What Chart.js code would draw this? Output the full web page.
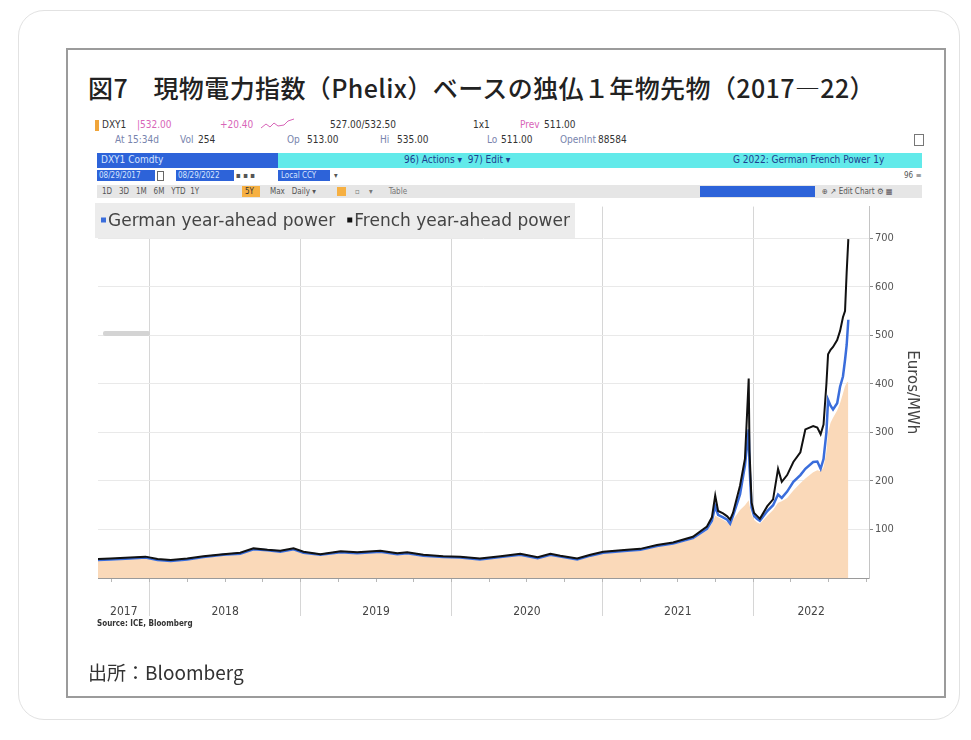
<!DOCTYPE html>
<html lang="ja">
<head>
<meta charset="utf-8">
<title>図7 独仏1年物先物</title>
<script src="https://cdn.jsdelivr.net/npm/chart.js@4.4.1/dist/chart.umd.min.js"></script>
<style>
  html, body { margin: 0; padding: 0; background: #fff; }
  body { width: 971px; height: 740px; position: relative; overflow: hidden; font-family: "DejaVu Sans Condensed", "DejaVu Sans", sans-serif; }
  .card { position: absolute; left: 18px; top: 10px; width: 940px; height: 708px; border: 1px solid #e2e2e2; border-radius: 26px; }
  .frame { position: absolute; left: 66px; top: 48px; width: 876px; height: 646px; border: 2px solid #9b9b9b; }
  .title { position: absolute; left: 88px; top: 71px; font-family: "Noto Sans CJK JP", sans-serif; font-size: 25px; letter-spacing: 0.4px; font-weight: 500; color: #222; white-space: nowrap; line-height: 32px; }
  .src-jp { position: absolute; left: 88px; top: 660px; font-family: "Noto Sans CJK JP", sans-serif; font-size: 19px; color: #333; line-height: 24px; }
  .t { position: absolute; font-size: 10px; line-height: 12px; white-space: nowrap; color: #333; }
  .pink { color: #d865b8; }
  .gb { color: #7884ad; }
  .bar { position: absolute; }
  .src-en { position: absolute; left: 97px; top: 619px; font-size: 8px; font-weight: bold; color: #333; }
  #chartBox { position: absolute; left: 80px; top: 198px; width: 860px; height: 430px; }
</style>
</head>
<body>
<div class="card"></div>
<div class="frame"></div>
<div class="title">図7　現物電力指数（Phelix）ベースの独仏１年物先物（2017—22）</div>

<!-- Bloomberg header rows -->
<div class="bar" style="left:95px;top:120px;width:4px;height:11px;background:#f0a53a;"></div>
<span class="t" style="left:102px;top:119px;">DXY1</span>
<span class="t pink" style="left:137px;top:119px;">|532.00</span>
<span class="t pink" style="left:220px;top:119px;">+20.40</span>
<svg class="bar" style="left:260px;top:118px;" width="36" height="12"><polyline points="1,10 6,6 10,9 14,5 18,8 24,7 28,3 34,1" fill="none" stroke="#d865b8" stroke-width="1"/></svg>
<span class="t" style="left:330px;top:119px;">527.00/532.50</span>
<span class="t" style="left:473px;top:119px;">1x1</span>
<span class="t pink" style="left:520px;top:119px;">Prev</span>
<span class="t" style="left:544px;top:119px;">511.00</span>

<span class="t gb" style="left:115px;top:134px;">At 15:34d</span>
<span class="t gb" style="left:180px;top:134px;">Vol</span>
<span class="t" style="left:198px;top:134px;">254</span>
<span class="t gb" style="left:287px;top:134px;">Op</span>
<span class="t" style="left:307px;top:134px;">513.00</span>
<span class="t gb" style="left:380px;top:134px;">Hi</span>
<span class="t" style="left:397px;top:134px;">535.00</span>
<span class="t gb" style="left:487px;top:134px;">Lo</span>
<span class="t" style="left:501px;top:134px;">511.00</span>
<span class="t gb" style="left:560px;top:134px;">OpenInt</span>
<span class="t" style="left:598px;top:134px;">88584</span>
<div class="bar" style="left:914px;top:134px;width:8px;height:10px;border:1px solid #777;"></div>

<div class="bar" style="left:97px;top:153px;width:181px;height:15px;background:#2d63d9;"></div>
<span class="t" style="left:101px;top:154px;color:#d6e4ff;">DXY1 Comdty</span>
<div class="bar" style="left:278px;top:153px;width:644px;height:15px;background:#62eaea;"></div>
<span class="t" style="left:404px;top:154px;color:#1d3f8f;">96) Actions ▾ &nbsp;97) Edit ▾</span>
<span class="t" style="left:733px;top:154px;color:#1d3f8f;">G 2022: German French Power 1y</span>

<div class="bar" style="left:97px;top:170px;width:58px;height:11px;background:#2d63d9;"></div>
<span class="t" style="left:99px;top:170px;color:#d6e4ff;font-size:8px;">08/29/2017</span>
<div class="bar" style="left:157px;top:171px;width:5px;height:8px;border:1px solid #666;"></div>
<div class="bar" style="left:176px;top:170px;width:58px;height:11px;background:#2d63d9;"></div>
<span class="t" style="left:178px;top:170px;color:#d6e4ff;font-size:8px;">08/29/2022</span>
<span class="t" style="left:236px;top:170px;font-size:8px;color:#555;">▪ ▪ ▪</span>
<div class="bar" style="left:278px;top:170px;width:52px;height:11px;background:#2d63d9;"></div>
<span class="t" style="left:281px;top:170px;color:#d6e4ff;font-size:8px;">Local CCY</span>
<span class="t" style="left:334px;top:170px;font-size:8px;color:#555;">▾</span>
<span class="t" style="left:904px;top:170px;font-size:8px;color:#555;">96 ≡</span>

<div class="bar" style="left:97px;top:185px;width:825px;height:13px;background:#e6e6e6;"></div>
<span class="t" style="left:102px;top:186px;font-size:8px;color:#555;">1D &nbsp;&nbsp;3D &nbsp;&nbsp;1M &nbsp;&nbsp;6M &nbsp;&nbsp;YTD &nbsp;1Y</span>
<div class="bar" style="left:242px;top:186px;width:18px;height:11px;background:#f6b042;"></div>
<span class="t" style="left:245px;top:186px;font-size:8px;color:#333;">5Y</span>
<span class="t" style="left:270px;top:186px;font-size:8px;color:#555;">Max &nbsp;&nbsp;Daily ▾</span>
<div class="bar" style="left:337px;top:187px;width:9px;height:9px;background:#f6b042;"></div>
<span class="t" style="left:355px;top:186px;font-size:8px;color:#777;">▫ &nbsp;&nbsp;&nbsp;▾ &nbsp;&nbsp;&nbsp;&nbsp;&nbsp;&nbsp;Table</span>
<div class="bar" style="left:700px;top:186px;width:115px;height:11px;background:#2d63d9;"></div>
<span class="t" style="left:822px;top:186px;font-size:8px;color:#555;">⊕ ↗ Edit Chart ⚙ ▦</span>

<div id="chartBox"><canvas id="chart" width="860" height="430"></canvas></div>
<div class="bar" style="left:103px;top:331px;width:47px;height:5px;background:#d4d4d4;border-radius:2px;"></div>
<div class="src-en">Source: ICE, Bloomberg</div>
<div class="src-jp">出所：Bloomberg</div>

<script>
// weekly-ish readings of the Bloomberg chart (EUR/MWh)
const DATES = [
  '2017-08-29', '2017-09-28', '2017-11-15', '2017-12-22', '2018-01-20', '2018-02-21', '2018-04-02', '2018-05-11',
  '2018-06-28', '2018-08-08', '2018-09-09', '2018-10-13', '2018-11-13', '2018-12-15', '2019-01-08', '2019-02-18',
  '2019-04-08', '2019-05-18', '2019-07-13', '2019-08-23', '2019-09-16', '2019-10-25', '2019-12-12', '2020-01-22',
  '2020-03-10', '2020-04-29', '2020-06-16', '2020-07-28', '2020-08-28', '2020-09-21', '2020-11-01', '2020-12-03',
  '2021-01-03', '2021-03-02', '2021-04-03', '2021-05-13', '2021-06-21', '2021-08-08', '2021-09-11', '2021-09-23',
  '2021-10-01', '2021-10-08', '2021-10-20', '2021-10-30', '2021-11-06', '2021-11-13', '2021-11-30', '2021-12-12',
  '2021-12-21', '2021-12-23', '2021-12-28', '2022-01-03', '2022-01-10', '2022-01-17', '2022-02-04', '2022-02-18',
  '2022-03-02', '2022-03-11', '2022-03-24', '2022-04-08', '2022-04-25', '2022-05-07', '2022-05-26', '2022-06-05',
  '2022-06-13', '2022-06-20', '2022-06-27', '2022-07-01', '2022-07-07', '2022-07-13', '2022-07-23', '2022-07-30',
  '2022-08-06', '2022-08-11', '2022-08-15', '2022-08-19',
];
const GERMAN = [
  37, 38, 40, 42, 37, 35, 38, 43,
  48, 50, 59, 57, 54, 59, 52, 48,
  53, 51, 54, 49, 51, 46, 43, 42,
  38, 43, 48, 41, 48, 44, 38, 46,
  52, 56, 58, 66, 71, 82, 101, 118,
  148, 130, 125, 120, 112, 128, 172, 232,
  306, 230, 145, 128, 122, 118, 138, 150,
  172, 165, 178, 198, 212, 225, 239, 240,
  225, 245, 300, 367, 355, 347, 360, 394,
  415, 449, 480, 532,
];
const FRENCH = [
  39, 40, 42, 44, 39, 37, 40, 45,
  49, 52, 61, 58, 56, 61, 54, 49,
  55, 53, 56, 51, 53, 48, 45, 44,
  40, 45, 50, 43, 50, 46, 40, 48,
  54, 58, 60, 68, 73, 85, 106, 125,
  170, 138, 133, 127, 120, 134, 190, 246,
  411, 262, 155, 134, 128, 122, 148, 162,
  225, 198, 212, 239, 259, 306, 313, 310,
  296, 316, 400, 461, 470, 476, 490, 509,
  537, 550, 630, 698,
];
// peach mountain under the lines
const AREA = [
  35, 36, 38, 40, 35, 33, 36, 41,
  46, 48, 57, 55, 52, 57, 50, 46,
  51, 49, 52, 47, 49, 44, 41, 40,
  36, 41, 46, 39, 46, 42, 36, 44,
  50, 54, 56, 64, 69, 80, 98, 112,
  128, 125, 120, 115, 110, 120, 140, 150,
  160, 150, 130, 120, 115, 112, 128, 140,
  155, 158, 165, 180, 195, 205, 218, 222,
  220, 228, 260, 300, 320, 330, 345, 360,
  380, 395, 402, 405,
];
const X_START = '2017-08-29';
const X_END = '2022-10-08';
const YEAR_LINES = [2018, 2019, 2020, 2021, 2022];
const YEAR_LABELS = ['2017', '2018', '2019', '2020', '2021', '2022'];
const Y_TICKS = [100, 200, 300, 400, 500, 600, 700];
const Y_MAX = 765;

function toYear(s) {
  const d = Date.parse(s + 'T00:00:00Z');
  const y = new Date(d).getUTCFullYear();
  const a = Date.UTC(y, 0, 1);
  const b = Date.UTC(y + 1, 0, 1);
  return y + (d - a) / (b - a);
}

const xMin = toYear(X_START);
const xMax = toYear(X_END);
const xs = DATES.map(toYear);
const toPoints = (vals) => vals.map((v, i) => ({ x: xs[i], y: v }));

// label positions: middle of each (partial) year segment
const bounds = [xMin, ...YEAR_LINES, xMax];
const labelPos = YEAR_LABELS.map((_, i) => (bounds[i] + bounds[i + 1]) / 2);
const quarterTicks = [];
for (let y = 2017; y <= 2022; y++) {
  [0.25, 0.5, 0.75, 1].forEach((q) => {
    const v = y + q;
    if (v > xMin && v < xMax) quarterTicks.push(v);
  });
}

// gray legend strip drawn over the top-left of the plot
const legendBox = {
  id: 'legendBox',
  afterDatasetsDraw(chart) {
    const { ctx } = chart;
    const left = 15, top = 5, w = 480, h = 35;
    ctx.save();
    ctx.fillStyle = '#ececec';
    ctx.fillRect(left, top, w, h);
    ctx.font = '17px "DejaVu Sans", sans-serif';
    ctx.textBaseline = 'middle';
    let x = left + 6;
    chart.data.datasets.forEach((ds) => {
      if (!ds.label) return;
      ctx.fillStyle = ds.borderColor;
      ctx.fillRect(x, top + h / 2 - 3, 5, 5);
      ctx.fillStyle = '#444';
      ctx.fillText(ds.label, x + 7, top + h / 2 + 1);
      x += 7 + ctx.measureText(ds.label).width + 12;
    });
    ctx.restore();
  },
};

new Chart(document.getElementById('chart'), {
  type: 'line',
  data: {
    datasets: [
      {
        label: 'German year-ahead power',
        data: toPoints(GERMAN),
        borderColor: '#3a6ddb',
        borderWidth: 2.5,
        pointRadius: 0,
        tension: 0,
        order: 2,
      },
      {
        label: 'French year-ahead power',
        data: toPoints(FRENCH),
        borderColor: '#111111',
        borderWidth: 2,
        pointRadius: 0,
        tension: 0,
        order: 1,
      },
      {
        label: '',
        data: toPoints(AREA),
        borderWidth: 0,
        borderColor: 'rgba(0,0,0,0)',
        backgroundColor: '#fad9b9',
        fill: 'origin',
        pointRadius: 0,
        tension: 0,
        order: 3,
      },
    ],
  },
  options: {
    responsive: false,
    animation: false,
    devicePixelRatio: 1,
    layout: { padding: { left: 18, top: 2, right: 0, bottom: 0 } },
    plugins: {
      legend: { display: false },
      tooltip: { enabled: false },
    },
    scales: {
      x: {
        type: 'linear',
        position: 'bottom',
        weight: 0,
        min: xMin,
        max: xMax,
        afterBuildTicks: (scale) => {
          scale.ticks = YEAR_LINES.map((v) => ({ value: v }));
        },
        afterFit: (scale) => {
          scale.height = 0;
        },
        ticks: { display: false },
        grid: { color: '#d6d6d6', tickColor: '#d6d6d6', tickLength: 38 },
        border: { display: true, color: '#9a9a9a' },
      },
      xMinor: {
        type: 'linear',
        position: 'bottom',
        weight: 1,
        min: xMin,
        max: xMax,
        afterBuildTicks: (scale) => {
          scale.ticks = quarterTicks.map((v) => ({ value: v }));
        },
        afterFit: (scale) => {
          scale.height = 0;
        },
        ticks: { display: false },
        grid: { drawOnChartArea: false, tickColor: '#b8b8b8', tickLength: 4 },
        border: { display: false },
      },
      xYears: {
        type: 'linear',
        position: 'bottom',
        weight: 2,
        min: xMin,
        max: xMax,
        afterBuildTicks: (scale) => {
          scale.ticks = labelPos.map((v) => ({ value: v }));
        },
        afterFit: (scale) => {
          scale.height = 50;
        },
        ticks: {
          autoSkip: false,
          maxRotation: 0,
          padding: 19,
          color: '#444',
          font: { family: '"DejaVu Sans Condensed", sans-serif', size: 12 },
          callback: (value, index) => YEAR_LABELS[index],
        },
        grid: { display: false },
        border: { display: false },
      },
      y: {
        position: 'right',
        min: 0,
        max: Y_MAX,
        afterBuildTicks: (scale) => {
          scale.ticks = Y_TICKS.map((v) => ({ value: v }));
        },
        afterFit: (scale) => {
          scale.width = 71;
        },
        ticks: {
          padding: 2,
          color: '#555',
          font: { family: '"DejaVu Sans Condensed", sans-serif', size: 11 },
        },
        grid: { color: '#e9e9e9', tickColor: '#888', tickLength: 4 },
        border: { display: true, color: '#c4c4c4' },
        title: {
          display: true,
          text: 'Euros/MWh',
          color: '#444',
          padding: { top: 19 },
          font: { family: '"DejaVu Sans", sans-serif', size: 15 },
        },
      },
    },
  },
  plugins: [legendBox],
});
</script>
</body>
</html>
